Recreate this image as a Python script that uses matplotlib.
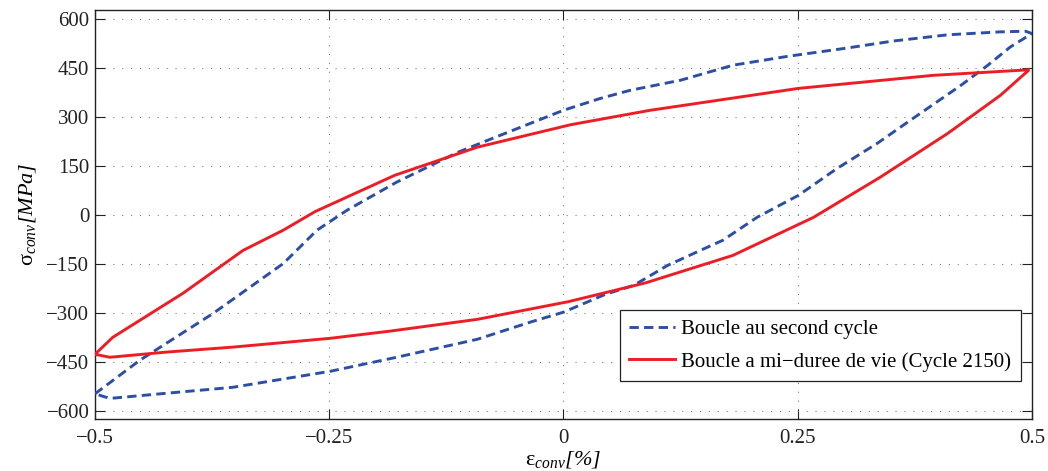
import matplotlib
matplotlib.use("Agg")
import matplotlib.pyplot as plt

# Boucle au second cycle (branche montante puis descendante)
eps_cycle2 = [-0.5, -0.452, -0.374, -0.299, -0.263, -0.231, -0.178, -0.113, -0.081,
              0.0, 0.039, 0.071, 0.125, 0.181, 0.239, 0.299, 0.352, 0.41, 0.466, 0.493, 0.5,
              0.477, 0.4525, 0.424, 0.373, 0.335, 0.292, 0.251, 0.207, 0.17, 0.146, 0.111,
              0.075, 0.045, 0.0, -0.036, -0.092, -0.178, -0.249, -0.353, -0.423, -0.484, -0.5]
sig_cycle2 = [-548, -445, -302, -149, -47, 14, 100, 191, 228,
              320, 356, 381, 412, 458, 485, 509, 532, 551, 560, 562, 555,
              514, 457, 396, 295, 219, 142, 60, -7, -78, -109, -155,
              -216, -243, -298, -329, -381, -436, -479, -528, -546, -562, -548]

# Boucle a mi-duree de vie (cycle 2150)
eps_mid = [-0.5, -0.481, -0.406, -0.342, -0.299, -0.265, -0.18, -0.092, 0.008,
           0.0926, 0.18, 0.2507, 0.3948, 0.497,
           0.4664, 0.41, 0.338, 0.2667, 0.181, 0.088, 0.005, -0.092, -0.185,
           -0.249, -0.353, -0.423, -0.484, -0.5]
sig_mid = [-427, -375, -240, -109, -47, 10, 121, 207, 276,
           320, 357, 387, 427, 444,
           366, 249, 115, -8, -124, -208, -266, -320, -356,
           -378, -405, -420, -436, -427]

xticks = [-0.5, -0.25, 0, 0.25, 0.5]
xticklabels = ["\u22120.5", "\u22120.25", "0", "0.25", "0.5"]
yticks = [-600, -450, -300, -150, 0, 150, 300, 450, 600]

plt.rcParams["font.family"] = ["Liberation Serif", "DejaVu Serif"]
# toute la partie mathtext en italique (indices et unites), sigma/epsilon restent droits
plt.rcParams["mathtext.fontset"] = "custom"
plt.rcParams["mathtext.rm"] = "Liberation Serif:italic"
plt.rcParams["mathtext.it"] = "Liberation Serif:italic"
plt.rcParams["font.size"] = 15

fig = plt.figure(figsize=(10.48, 4.71), dpi=100, facecolor="white")
ax = fig.add_axes([0.0906, 0.1104, 0.8941, 0.8684])

ax.plot(eps_cycle2, sig_cycle2, color="#2c4fa6", lw=2.1, linestyle="--",
        dashes=(3.2, 1.8), label="Boucle au second cycle", zorder=3)
ax.plot(eps_mid, sig_mid, color="#ee1d25", lw=2.1, solid_joinstyle="miter",
        label="Boucle a mi\u2212duree de vie (Cycle 2150)", zorder=4)

ax.set_xlim(-0.5, 0.5)
ax.set_ylim(-625, 627)
ax.set_xticks(xticks)
ax.set_xticklabels(xticklabels)
ax.set_yticks(yticks)
ax.set_yticklabels([str(v).replace("-", "\u2212") for v in yticks])

ax.grid(True, color="#808080", linestyle=(0, (1, 7)), linewidth=0.8)
ax.tick_params(direction="in", length=7, width=0.8, top=True, right=True,
               colors="#222222", labelsize=15)
ax.tick_params(axis="x", pad=7)
ax.tick_params(axis="y", pad=4)
for sp in ax.spines.values():
    sp.set_linewidth(1.0)
    sp.set_color("#222222")

ax.set_xlabel("\u03b5$_{conv}$$[\\%]$", fontsize=16, labelpad=1)
ax.set_ylabel("\u03c3$_{conv}$$[MPa]$", fontsize=16, labelpad=6)

leg = ax.legend(loc="lower right", bbox_to_anchor=(0.988, 0.093), borderaxespad=0,
                fancybox=False, framealpha=1, edgecolor="#222222", fontsize=15,
                handlelength=2.2, handletextpad=0.3, labelspacing=0.6, borderpad=0.45)
leg.get_frame().set_linewidth(0.9)

plt.savefig("out.png", dpi=100, facecolor="white")
plt.close(fig)
